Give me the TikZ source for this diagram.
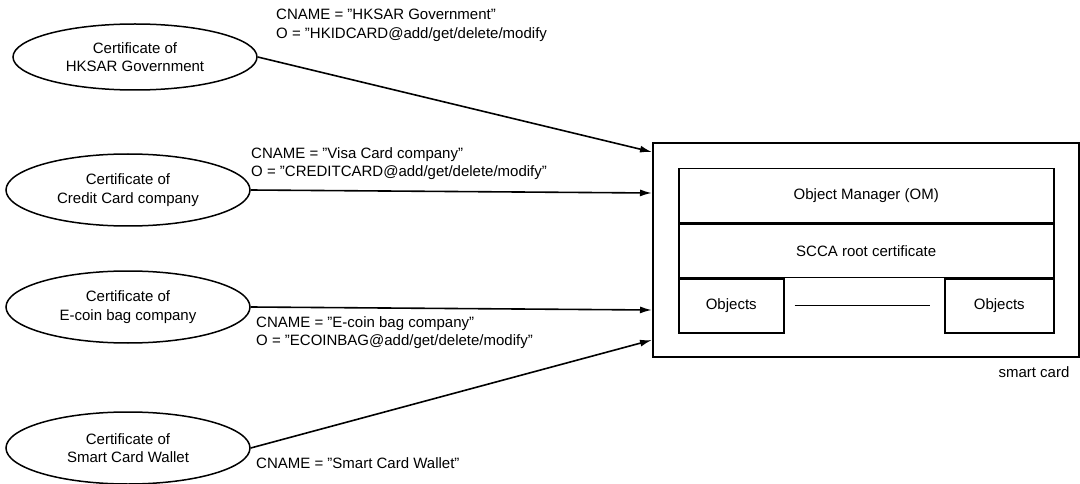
\documentclass[tikz,border=0pt]{standalone}
\usepackage{fontspec}
\setmainfont{Liberation Sans}
\usetikzlibrary{shapes.geometric,arrows.meta}
\begin{document}
\begin{tikzpicture}[x=1pt,y=-1pt,
  txt/.style={font=\fontsize{15}{18.5}\selectfont},
  cert/.style={ellipse, draw, line width=1.5pt, inner sep=0pt, align=center,
    minimum width=244pt, minimum height=72pt, txt},
  lbl/.style={anchor=north west, align=left, inner sep=0pt, txt},
  link/.style={line width=1.6pt, -{Latex[length=12pt,width=7pt]}},
  part/.style={draw, line width=1.5pt, inner sep=0pt, anchor=north west, txt}
]
\useasboundingbox (0,0) rectangle (1080,484);

% certificates
\node[cert, minimum height=66pt] (e1) at (135,57) {Certificate of\\HKSAR Government};
\node[cert] (e2) at (128,190) {Certificate of\\Credit Card company};
\node[cert] (e3) at (128,307) {Certificate of\\E-coin bag company};
\node[cert] (e4) at (128,448) {Certificate of\\Smart Card Wallet};

% smart card and its contents
\node[draw, line width=1.6pt, anchor=north west, minimum width=426pt,
      minimum height=214pt] (card) at (652,142) {};
\node[part, minimum width=375pt, minimum height=54pt] (om) at (678,168)
  {Object Manager (OM)};
\node[part, minimum width=375pt, minimum height=53pt] (scca) at (om.south west)
  {SCCA root certificate};
\node[part, minimum width=105pt, minimum height=54pt] (obj1) at (scca.south west)
  {Objects};
\node[part, anchor=north east, minimum width=109pt, minimum height=54pt] (obj2)
  at (scca.south east) {Objects};
\draw[line width=1.4pt] ([xshift=10pt]obj1.east) -- ([xshift=-14pt]obj2.west);
\node[txt, anchor=north east, inner sep=0pt] (cap)
  at ([xshift=-10pt,yshift=-9pt]card.south east) {smart card};

% entry points on the card
\coordinate (in1) at (652,152);
\coordinate (in2) at (652,193);
\coordinate (in3) at (652,310);
\coordinate (in4) at (652,340);

\draw[link] (e1.east) -- (card.west |- in1);
\draw[link] (e2.east) -- (card.west |- in2);
\draw[link] (e3.east) -- (card.west |- in3);
\draw[link] (e4.east) -- (card.west |- in4);

% attributes carried by each certificate
\node[lbl] (l1) at (276,9) {CNAME = "HKSAR Government"\\O = "HKIDCARD@add/get/delete/modify};
\node[lbl] (l2) at (251,147) {CNAME = "Visa Card company"\\O = "CREDITCARD@add/get/delete/modify"};
\node[lbl] (l3) at (256,316) {CNAME = "E-coin bag company"\\O = "ECOINBAG@add/get/delete/modify"};
\node[lbl] (l4) at (256,457) {CNAME = "Smart Card Wallet"};
\end{tikzpicture}
\end{document}
